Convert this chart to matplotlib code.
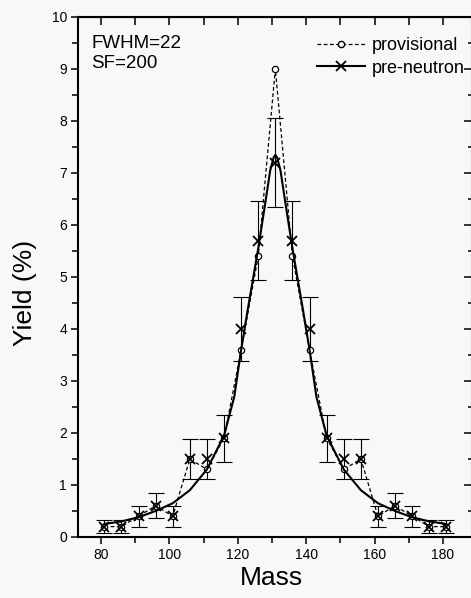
import matplotlib
matplotlib.use("Agg")
import matplotlib.pyplot as plt
from matplotlib.lines import Line2D
from matplotlib.ticker import MultipleLocator

plt.rcParams["font.family"] = ["Liberation Sans", "DejaVu Sans"]

# ==========================================
# DATA
# ==========================================
mass = [81, 86, 91, 96, 101, 106, 111, 116, 121, 126, 131,
        136, 141, 146, 151, 156, 161, 166, 171, 176, 181]

provisional = [0.2, 0.2, 0.4, 0.6, 0.4, 1.5, 1.3, 1.9, 3.6, 5.4, 9.0,
               5.4, 3.6, 1.9, 1.3, 1.5, 0.4, 0.6, 0.4, 0.2, 0.2]

pre_neutron = [0.2, 0.2, 0.4, 0.6, 0.4, 1.5, 1.5, 1.9, 4.0, 5.7, 7.2,
               5.7, 4.0, 1.9, 1.5, 1.5, 0.4, 0.6, 0.4, 0.2, 0.2]

pre_neutron_err = [0.13, 0.12, 0.2, 0.24, 0.2, 0.38, 0.38, 0.45, 0.62, 0.76, 0.85,
                   0.76, 0.62, 0.45, 0.38, 0.38, 0.2, 0.24, 0.2, 0.13, 0.12]

# smooth pre-neutron curve (FWHM=22), read point by point
curve_mass = [81, 86, 91, 96, 101, 106, 111, 116, 119, 121, 123, 126, 128,
              129.5, 130.5, 131, 131.5, 132.5, 134, 136, 139, 141, 143,
              146, 151, 156, 161, 166, 171, 176, 181]
curve_yield = [0.25, 0.30, 0.38, 0.50, 0.65, 0.90, 1.30, 1.95, 2.7, 3.6, 4.4,
               5.55, 6.4, 7.05, 7.3, 7.35, 7.3, 7.05, 6.4, 5.55, 4.4, 3.6,
               2.7, 1.95, 1.30, 0.90, 0.65, 0.50, 0.38, 0.30, 0.25]

W, H = 471, 598
bg = "#f8f8f8"

fig = plt.figure(figsize=(W / 100, H / 100), dpi=100)
fig.patch.set_facecolor(bg)

# right spine sits just past the image edge, like the scanned original
ax = fig.add_axes([78 / W, (H - 537) / H, 394 / W, 520 / H])
ax.set_facecolor(bg)

ax.errorbar(mass, pre_neutron, yerr=pre_neutron_err, fmt="none",
            ecolor="black", elinewidth=0.8, capsize=6, capthick=0.8, zorder=2)

ax.plot(mass, provisional, color="black", linestyle=(0, (3, 2)), linewidth=0.9,
        marker="o", markersize=4.5, markerfacecolor="white",
        markeredgecolor="black", markeredgewidth=0.9, zorder=3)

ax.plot(curve_mass, curve_yield, color="black", linewidth=1.5, zorder=3)
ax.plot(mass, pre_neutron, linestyle="none", marker="x", markersize=6.5,
        markeredgecolor="black", markeredgewidth=1.3, zorder=4)

ax.set_xlim(73.3, 188.5)
ax.set_ylim(0, 10)

ax.xaxis.set_major_locator(MultipleLocator(20))
ax.xaxis.set_minor_locator(MultipleLocator(10))
ax.yaxis.set_major_locator(MultipleLocator(1))
ax.yaxis.set_minor_locator(MultipleLocator(0.5))

ax.tick_params(which="both", direction="out", width=1.1, labelsize=10, pad=3,
               top=False, right=False)
ax.tick_params(which="major", length=5)
ax.tick_params(which="minor", length=4)

# inward ticks on top and right
sec_x = ax.secondary_xaxis("top")
sec_x.xaxis.set_major_locator(MultipleLocator(20))
sec_x.xaxis.set_minor_locator(MultipleLocator(10))
sec_x.tick_params(which="both", direction="in", length=6, width=1.1, labeltop=False)
sec_y = ax.secondary_yaxis("right")
sec_y.yaxis.set_major_locator(MultipleLocator(1))
sec_y.yaxis.set_minor_locator(MultipleLocator(0.5))
sec_y.tick_params(which="major", direction="in", length=6, width=1.1, labelright=False)
sec_y.tick_params(which="minor", direction="in", length=3, width=1.1)

for s in ax.spines.values():
    s.set_linewidth(1.5)

fig.text(271 / W, 1 - 578 / H, "Mass", fontsize=19, ha="center", va="center")
fig.text(25 / W, 1 - 293 / H, "Yield (%)", fontsize=19, ha="center",
         va="center", rotation=90)

ax.text(0.033, 0.965, "FWHM=22\nSF=200", transform=ax.transAxes, fontsize=13.5,
        ha="left", va="top", linespacing=1.25)

handles = [
    Line2D([], [], color="black", linestyle=(0, (3, 2)), linewidth=0.9, marker="o",
           markersize=4.5, markerfacecolor="white", markeredgecolor="black"),
    Line2D([], [], color="black", linewidth=1.5, marker="x", markersize=6.5,
           markeredgewidth=1.3),
]
ax.legend(handles, ["provisional", "pre-neutron"], loc="upper left",
          bbox_to_anchor=(0.607, 0.961), frameon=False, fontsize=13,
          handlelength=2.65, handletextpad=0.38, labelspacing=0.3, borderpad=0,
          borderaxespad=0)

fig.savefig("out.png", dpi=100, facecolor=bg)
